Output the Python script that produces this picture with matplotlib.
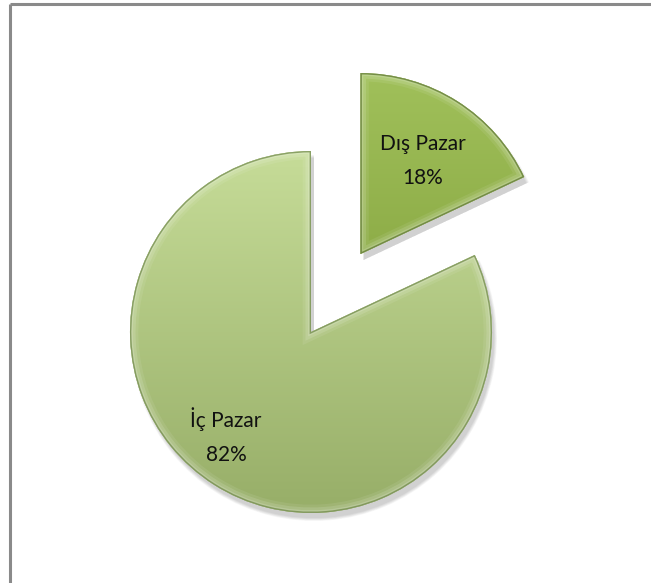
import numpy as np
import matplotlib
matplotlib.use("Agg")
import matplotlib.pyplot as plt
from matplotlib.patches import Wedge
from matplotlib.colors import LinearSegmentedColormap

# Market share split
categories = ["Dış Pazar", "İç Pazar"]
shares = [18, 82]
explode_frac = [0.51, 0.0]

# Gradient colours per slice (top -> bottom)
slice_top = ["#a0c05a", "#c6dc98"]
slice_bottom = ["#7c9a36", "#97ae68"]
rim_dark = ["#56702a", "#6a8444"]

plt.rcParams["font.family"] = ["Lato", "DejaVu Sans"]

W, H = 651, 583
fig = plt.figure(figsize=(W / 100, H / 100), dpi=100)
ax = fig.add_axes([0, 0, 1, 1])

R = 181
C = (311, 251)
# pie offsets explode in data units, so scale the fractions by the radius
wedges, _ = ax.pie(shares, explode=[e * R for e in explode_frac], startangle=90,
                   counterclock=False, radius=R, center=C, labels=None,
                   wedgeprops=dict(linewidth=0, edgecolor="none"))
ax.set_aspect("equal")
ax.axis("off")

# soft drop shadow under each slice, cast down and to the right
for w in wedges:
    for k in range(6):
        s = Wedge((w.center[0] + 3, w.center[1] - 6), w.r - 1 + k * 0.6,
                  w.theta1, w.theta2, facecolor="black", edgecolor="none",
                  alpha=0.03, zorder=0.5)
        ax.add_patch(s)

for i, w in enumerate(wedges):
    w.set_facecolor(slice_bottom[i])
    w.set_zorder(2)
    cx, cy = w.center
    cmap = LinearSegmentedColormap.from_list(f"g{i}", [slice_bottom[i], slice_top[i]])
    grad = np.linspace(0, 1, 256).reshape(-1, 1)
    im = ax.imshow(grad, cmap=cmap, origin="lower", aspect="auto",
                   extent=(cx - R, cx + R, cy - R, cy + R), zorder=2.1,
                   interpolation="bilinear")
    im.set_clip_path(w)
    # bevel: light inner rim
    for lw, a in [(12, 0.08), (8, 0.12), (4, 0.16)]:
        rim = Wedge(w.center, w.r, w.theta1, w.theta2, facecolor="none",
                    edgecolor="white", linewidth=lw, alpha=a, zorder=2.2)
        ax.add_patch(rim)
        rim.set_clip_path(w)
    # darker outline
    edge = Wedge(w.center, w.r, w.theta1, w.theta2, facecolor="none",
                 edgecolor=rim_dark[i], linewidth=2.0, alpha=0.7, zorder=2.3)
    ax.add_patch(edge)
    edge.set_clip_path(w)

ax.set_xlim(0, W)
ax.set_ylim(0, H)

# slice labels
label_pos = [(423, 422), (226, 147)]
for name, val, (x, y) in zip(categories, shares, label_pos):
    ax.text(x, y, f"{name}\n{val}%", ha="center", va="center", fontsize=15,
            color="#111111", linespacing=1.9, zorder=5)

# chart frame (top and left edges)
ax.plot([10, W], [H - 4, H - 4], color="#8a8a8a", linewidth=2.2, zorder=6,
        solid_capstyle="butt")
ax.plot([10, 10], [H - 4, 0], color="#8a8a8a", linewidth=2.2, zorder=6,
        solid_capstyle="butt")

fig.savefig("out.png", dpi=100)
